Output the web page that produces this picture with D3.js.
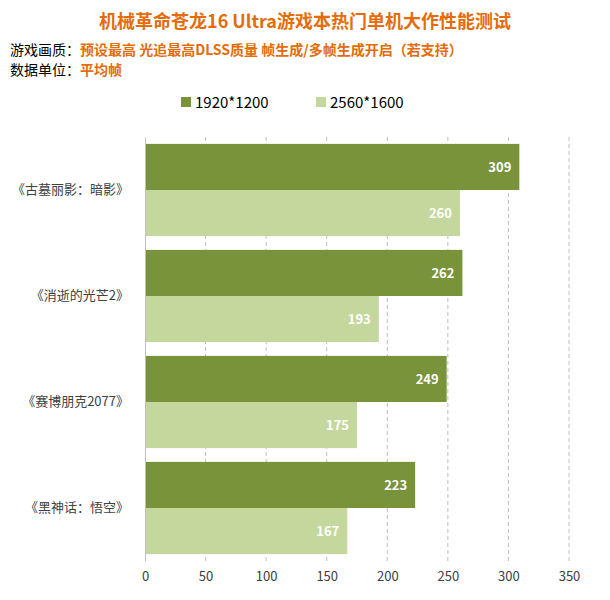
<!DOCTYPE html>
<html><head><meta charset="utf-8">
<script src="https://cdn.jsdelivr.net/npm/d3@7"></script>
<style>body{margin:0;background:#fff}</style>
</head><body><div id="chart"></div>
<script>
const games = ["《古墓丽影：暗影》", "《消逝的光芒2》", "《赛博朋克2077》", "《黑神话：悟空》"];
const series = ["1920*1200", "2560*1600"];
const fps1920 = [309, 262, 249, 223];
const fps2560 = [260, 193, 175, 167];
const xTicks = [0, 50, 100, 150, 200, 250, 300, 350];
const colors = ["#78933a", "#c4d89d"];
const font = "'Microsoft YaHei','Noto Sans CJK SC',sans-serif";

const width = 610, height = 600;
const margin = {top: 137, right: 41, bottom: 39, left: 145};

const svg = d3.select("#chart").append("svg")
  .attr("width", width).attr("height", height)
  .style("font-family", font);

svg.append("text").attr("x", 305).attr("y", 28).attr("text-anchor", "middle")
  .attr("font-size", 18).attr("font-weight", "bold").attr("fill", "#e46c0a")
  .text("机械革命苍龙16  Ultra游戏本热门单机大作性能测试");

const sub = [["游戏画质：", "预设最高 光追最高DLSS质量 帧生成/多帧生成开启（若支持）"], ["数据单位：", "平均帧"]];
sub.forEach((s, i) => {
  const t = svg.append("text").attr("x", 10).attr("y", 55 + i * 20).attr("font-size", 14);
  t.append("tspan").attr("fill", "#000").text(s[0]);
  t.append("tspan").attr("fill", "#e46c0a").attr("font-weight", "bold").text(s[1]);
});

// legend
const lx = [181, 316];
series.forEach((s, i) => {
  svg.append("rect").attr("x", lx[i]).attr("y", 97).attr("width", 10).attr("height", 10).attr("fill", colors[i]);
  svg.append("text").attr("x", lx[i] + 14).attr("y", 108).attr("font-size", 15).attr("fill", "#000").text(s);
});

const x = d3.scaleLinear().domain([0, 350]).range([margin.left, width - margin.right]);
const y = d3.scaleBand().domain(games).range([margin.top, height - margin.bottom]).paddingInner(0.13).paddingOuter(0.065);
const y2 = d3.scaleBand().domain(series).range([0, y.bandwidth()]);

// grid
svg.append("g").selectAll("line").data(xTicks.slice(1)).join("line")
  .attr("x1", d => x(d)).attr("x2", d => x(d))
  .attr("y1", margin.top).attr("y2", height - margin.bottom)
  .attr("stroke", "#bfbfbf").attr("stroke-dasharray", "4,3");

const data = games.map((g, i) => ({g, vals: [fps1920[i], fps2560[i]]}));
const grp = svg.append("g").selectAll("g").data(data).join("g")
  .attr("transform", d => `translate(0,${y(d.g)})`);
grp.selectAll("rect").data(d => d.vals).join("rect")
  .attr("x", x(0)).attr("y", (v, i) => y2(series[i]))
  .attr("width", v => x(v) - x(0)).attr("height", y2.bandwidth())
  .attr("fill", (v, i) => colors[i]);
grp.selectAll("text").data(d => d.vals).join("text")
  .attr("x", v => x(v) - 8).attr("y", (v, i) => y2(series[i]) + y2.bandwidth() / 2 + 5)
  .attr("text-anchor", "end").attr("font-size", 13).attr("font-weight", "bold")
  .attr("fill", "#fff").text(v => v);

// left axis
svg.append("g").attr("transform", `translate(${margin.left},0)`)
  .call(d3.axisLeft(y).tickSize(0).tickPadding(16))
  .call(g => g.select(".domain").attr("stroke", "#bfbfbf"))
  .call(g => g.selectAll("text").attr("font-size", 13).attr("fill", "#404040").style("font-family", font));

// bottom axis
svg.append("g").attr("transform", `translate(0,${height - margin.bottom})`)
  .call(d3.axisBottom(x).tickValues(xTicks).tickSize(0).tickPadding(11))
  .call(g => g.select(".domain").remove())
  .call(g => g.selectAll("text").attr("font-size", 13).attr("fill", "#404040").style("font-family", font));
</script></body></html>
